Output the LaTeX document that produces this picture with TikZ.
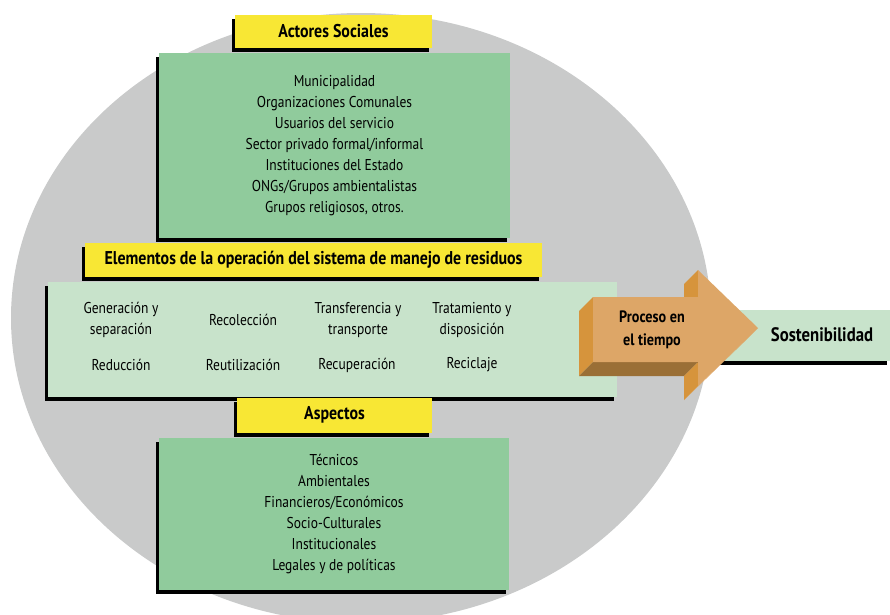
\documentclass[tikz,border=0pt]{standalone}
\usepackage{fontspec}
\setmainfont{PT Sans}[FakeStretch=0.86]
\usetikzlibrary{positioning,shadows}
\definecolor{circlegray}{RGB}{201,202,202}
\definecolor{headyellow}{RGB}{248,231,52}
\definecolor{listgreen}{RGB}{144,203,156}
\definecolor{bandgreen}{RGB}{200,227,203}
\definecolor{arrowfront}{RGB}{221,166,103}
\definecolor{arrowside}{RGB}{214,148,60}
\definecolor{arrowbottom}{RGB}{154,111,54}
\tikzset
{
  blackshadow/.style = {drop shadow={shadow xshift=-3pt, shadow yshift=-4pt, fill=black, opacity=1}},
  headbox/.style  = {fill=headyellow, blackshadow, inner sep=0pt, align=center, font=\bfseries\fontsize{18.5}{20}\selectfont},
  listbox/.style  = {fill=listgreen, blackshadow, inner sep=0pt, align=center, font=\fontsize{15.7}{21}\selectfont},
  bandbox/.style  = {fill=bandgreen, blackshadow, inner sep=0pt},
  itemtext/.style = {align=center, font=\fontsize{15.7}{21}\selectfont}
}
\begin{document}
\begin{tikzpicture}[x=1pt,y=-1pt]
  \useasboundingbox (0,0) rectangle (890,614);
  \clip (0,0) rectangle (890,614);
  \fill[circlegray] (361,318) ellipse [x radius=350, y radius=305];

  % actores sociales
  \node [listbox, minimum width=351pt, minimum height=185pt] (actlist) at (334.5,145.5)
    {Municipalidad\\Organizaciones Comunales\\Usuarios del servicio\\Sector privado formal/informal\\Instituciones del Estado\\ONGs/Grupos ambientalistas\\Grupos religiosos, otros.};
  \node [headbox, minimum width=197pt, minimum height=33pt, above=5pt of actlist, xshift=-1pt] (acthead) {Actores Sociales};

  % elementos de la operacion
  \node [bandbox, minimum width=569pt, minimum height=115pt] (band) at (332.5,339.5) {};
  \node [headbox, minimum width=457pt, minimum height=34pt, above=5pt of band, xshift=-19pt] (elemhead)
    {Elementos de la operación del sistema de manejo de residuos};
  \node [itemtext] (gen)   at (121,320) {Generación y\\separación};
  \node [itemtext] (rec)   at (243,320) {Recolección};
  \node [itemtext] (trans) at (358,320) {Transferencia y\\transporte};
  \node [itemtext] (trat)  at (472,320) {Tratamiento y\\disposición};
  \node [itemtext] (redu)  at (121,365) {Reducción};
  \node [itemtext] (reut)  at (243,365) {Reutilización};
  \node [itemtext] (recu)  at (357,365) {Recuperación};
  \node [itemtext] (reci)  at (472,365) {Reciclaje};

  % aspectos
  \node [listbox, minimum width=350pt, minimum height=152pt] (asplist) at (334,514)
    {Técnicos\\Ambientales\\Financieros/Económicos\\Socio-Culturales\\Institucionales\\Legales y de políticas};
  \node [headbox, minimum width=195pt, minimum height=35pt, above=5pt of asplist, xshift=0.5pt] (asphead) {Aspectos};

  % sostenibilidad
  \node [bandbox, minimum width=190pt, minimum height=51pt] (sostband) at (795,335.5) {};
  \node [font=\bfseries\fontsize{19.5}{21}\selectfont] (sost) at (822,335) {Sostenibilidad};

  % flecha
  \fill[arrowside] (579,311) -- (593,297) -- (593,362) -- (579,376) -- cycle;
  \fill[arrowbottom] (593,362) -- (698,362) -- (684,376) -- (579,376) -- cycle;
  \fill[arrowside] (698,270) -- (698,297) -- (684,311) -- (684,284) -- cycle;
  \fill[arrowside] (698,362) -- (698,386) -- (684,400) -- (684,376) -- cycle;
  \fill[arrowfront] (758,328) -- (698,386) -- (684,400) -- (744,342) -- cycle;
  \fill[arrowfront] (593,297) -- (698,297) -- (698,270) -- (758,328) -- (698,386) -- (698,362) -- (593,362) -- cycle;
  \node [align=center, font=\bfseries\fontsize{16.5}{23}\selectfont] (proceso) at (652,330) {Proceso en\\el tiempo};
\end{tikzpicture}
\end{document}
